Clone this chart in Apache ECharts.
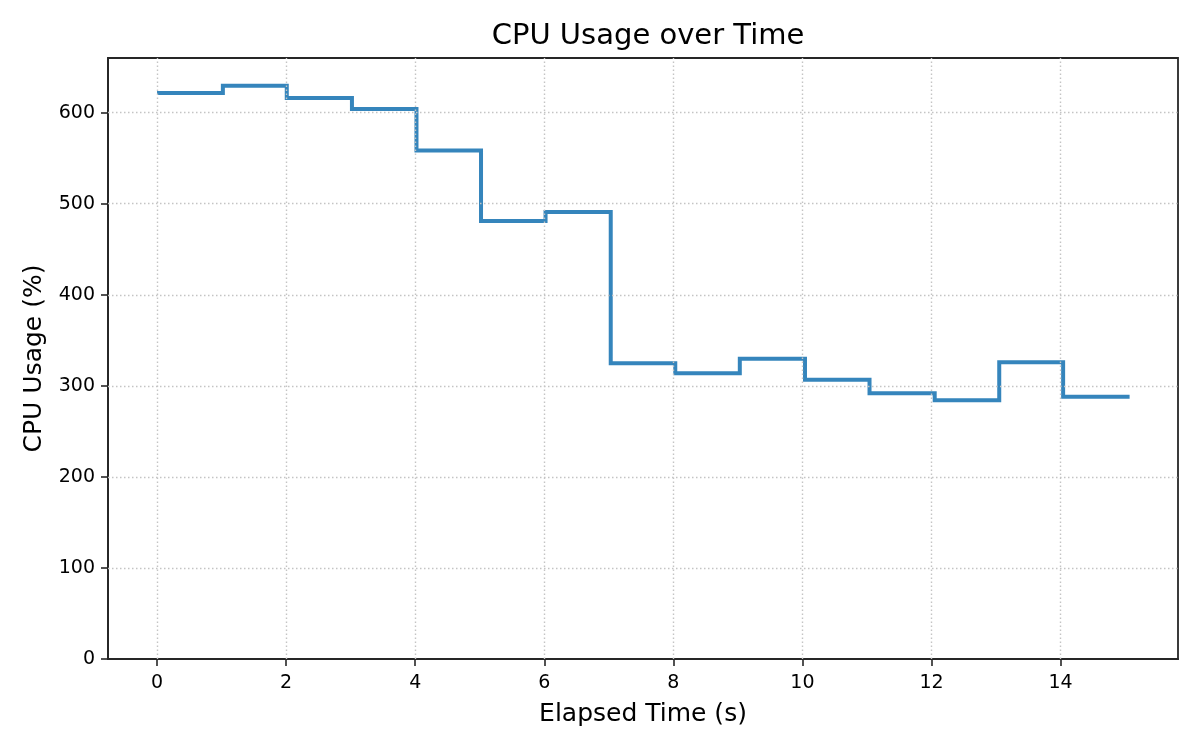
<!DOCTYPE html>
<html>
<head>
<meta charset="utf-8">
<script src="https://cdn.jsdelivr.net/npm/echarts@6/dist/echarts.min.js"></script>
<style>html,body{margin:0;padding:0;background:#fff;}#c{width:1200px;height:750px;}</style>
</head>
<body>
<div id="c"></div>
<script>
const titleText = "CPU Usage over Time";
const xName = "Elapsed Time (s)";
const yName = "CPU Usage (%)";
const times = [0, 1.02, 2.01, 3.02, 4.02, 5.02, 6.02, 7.03, 8.03, 9.03, 10.04, 11.04, 12.05, 13.05, 14.04, 15.07];
const cpu = [621.5, 629.6, 616, 604, 558.3, 481, 491, 324.7, 313.8, 329.8, 306.8, 291.8, 284.1, 325.8, 288.1, 288.1];
const xTicks = [0, 2, 4, 6, 8, 10, 12, 14];
const yTicks = [0, 100, 200, 300, 400, 500, 600];

const font = "DejaVu Sans";
const chart = echarts.init(document.getElementById('c'), null, {renderer: 'canvas'});
const gridLine = {color: '#c4c4c4', width: 1.4, type: [1.5, 2.5]};
chart.setOption({
  animation: false,
  title: {
    text: titleText, left: 643, top: 17, textAlign: 'center',
    textStyle: {fontFamily: font, fontSize: 29, fontWeight: 'normal', color: '#000'}
  },
  grid: {left: 108, right: 22, top: 58, bottom: 91, show: true, borderColor: '#262626', borderWidth: 1.8, backgroundColor: 'transparent'},
  xAxis: {
    type: 'value', min: -0.76, max: 15.82,
    name: xName, nameLocation: 'middle', nameGap: 43,
    nameTextStyle: {fontFamily: font, fontSize: 25, color: '#000'},
    axisLine: {show: true, onZero: false, lineStyle: {color: '#262626', width: 1.8}},
    axisTick: {show: true, length: 7, lineStyle: {color: '#262626', width: 1.6}, customValues: xTicks},
    axisLabel: {fontFamily: font, fontSize: 19, color: '#000', margin: 15, customValues: xTicks},
    splitLine: {show: false}
  },
  yAxis: {
    type: 'value', min: 0, max: 660,
    name: yName, nameLocation: 'middle', nameGap: 61, nameRotate: 90,
    nameTextStyle: {fontFamily: font, fontSize: 25, color: '#000'},
    axisLine: {show: true, onZero: false, lineStyle: {color: '#262626', width: 1.8}},
    axisTick: {show: true, length: 7, lineStyle: {color: '#262626', width: 1.6}, customValues: yTicks},
    axisLabel: {fontFamily: font, fontSize: 19, color: '#000', margin: 13, customValues: yTicks},
    splitLine: {show: false}
  },
  series: [
    {
      type: 'line', step: 'end', showSymbol: false, symbol: 'none',
      data: times.map((t, i) => [t, cpu[i]]),
      lineStyle: {color: '#3585bc', width: 4, join: 'miter'},
      z: 3,
      markLine: {
        silent: true, symbol: 'none', label: {show: false},
        lineStyle: gridLine, animation: false,
        data: xTicks.map(v => ({xAxis: v})).concat(yTicks.filter(v => v > 0).map(v => ({yAxis: v})))
      }
    }
  ]
});
</script>
</body>
</html>
